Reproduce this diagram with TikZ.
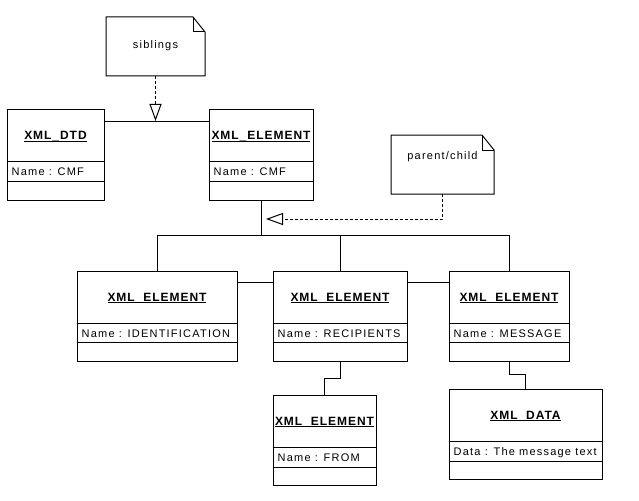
\documentclass[tikz,border=0pt]{standalone}
\usepackage{fontspec}
\setmainfont{Liberation Sans}
\newfontfamily\attrfont[LetterSpace=11]{Liberation Sans}
\newfontfamily\ttlfont[LetterSpace=8]{Liberation Sans}
\usetikzlibrary{arrows.meta,fit,calc}

\newcommand{\uln}[1]{\leavevmode\setbox0=\hbox{#1}\rlap{\vrule height -1pt depth 2pt width \wd0}\box0}

\tikzset{
  ln/.style={line width=1pt},
  box/.style={draw, line width=1pt, inner sep=0pt},
  ttl/.style={font=\ttlfont\fontsize{12}{14}\selectfont\bfseries, inner sep=0pt, anchor=base},
  attr/.style={font=\attrfont\fontsize{11}{13}\selectfont, inner sep=0pt, anchor=base west},
  notetxt/.style={font=\attrfont\fontsize{11}{13}\selectfont, inner sep=0pt, anchor=base},
  dsh/.style={line width=1pt, dash pattern=on 3pt off 2pt},
  gen/.style={-{Triangle[open,length=17pt,width=12pt,line width=1pt]}}
}

% name, x1, y1, x2, y2, line1, line2, title, attribute
\newcommand{\umlclass}[9]{%
  \path (#2,#3) coordinate (#1-nw) (#4,#5) coordinate (#1-se);
  \node[box, fit=(#1-nw)(#1-se)] (#1) {};
  \draw[ln] (#1.west |- 0,#6) -- (#1.east |- 0,#6);
  \draw[ln] (#1.west |- 0,#7) -- (#1.east |- 0,#7);
  \node[ttl] (#1-t) at ($(#1.north)!0.5!(#1.north |- 0,#6) + (0,4.5)$) {\uln{#8}};
  \node[attr] (#1-a) at ($(#1.west |- 0,#6)!0.5!(#1.west |- 0,#7) + (5,4.5)$) {#9};
}

% name, x1, y1, x2, y2
\newcommand{\umlnote}[5]{%
  \path (#2,#3) coordinate (#1-nw) (#4,#5) coordinate (#1-se);
  \node[inner sep=0pt, outer sep=0pt, fit=(#1-nw)(#1-se)] (#1) {};
  \draw[ln] (#1.north west) -- ($(#1.north east)+(-12,0)$) -- ($(#1.north east)+(0,15)$)
            -- (#1.south east) -- (#1.south west) -- cycle;
  \draw[ln] ($(#1.north east)+(-12,0)$) -- ($(#1.north east)+(-12,15)$) -- ($(#1.north east)+(0,15)$);
}

\begin{document}
\begin{tikzpicture}[x=1pt,y=-1pt]
\useasboundingbox (0,0) rectangle (639,500);

% notes
\umlnote{sib}{106}{17}{205}{76}
\node[notetxt] (sib-t) at (155.5,49) {siblings};
\umlnote{pc}{391}{135}{494}{194}
\node[notetxt] (pc-t) at (442.5,159) {parent/child};

% classes
\umlclass{dtd}{7}{110}{104}{200}{161}{181}{XML\_DTD}{Name : CMF}
\umlclass{elem}{209}{110}{313}{200}{161}{181}{XML\_ELEMENT}{Name : CMF}
\umlclass{id}{77}{271}{237}{361}{323}{342}{XML\_ELEMENT}{Name : IDENTIFICATION}
\umlclass{rec}{273}{271}{407}{361}{323}{342}{XML\_ELEMENT}{Name : RECIPIENTS}
\umlclass{msg}{449}{271}{569}{361}{323}{342}{XML\_ELEMENT}{Name : MESSAGE}
\umlclass{from}{273}{395}{376}{485}{447}{467}{XML\_ELEMENT}{Name : FROM}
\umlclass{data}{449}{389}{602}{479}{441}{461}{XML\_DATA}{Data : The message text}

% siblings relation
\draw[ln] (dtd.east |- 0,121) -- (elem.west |- 0,121);
\coordinate (sibtip) at (sib.south |- 0,121);
\draw[dsh, gen] (sib.south) -- (sibtip);

% parent/child tree
\draw[ln] (elem.south) -- (elem.south |- 0,235);
\draw[ln] (id.north) -- (id.north |- 0,235) -- (msg.north |- 0,235) -- (msg.north);
\draw[ln] (rec.north) -- (rec.north |- 0,235);
\coordinate (pcend) at (266,219);
\draw[dsh, gen] (pc.south) |- (pcend);

% sibling links between children
\draw[ln] (id.east |- 0,282) -- (rec.west |- 0,282);
\draw[ln] (rec.east |- 0,282) -- (msg.west |- 0,282);

% sub children
\draw[ln] (rec.south) -- (rec.south |- 0,378) -| (from.north);
\draw[ln] (msg.south) -- (msg.south |- 0,374) -| (data.north);
\end{tikzpicture}
\end{document}
